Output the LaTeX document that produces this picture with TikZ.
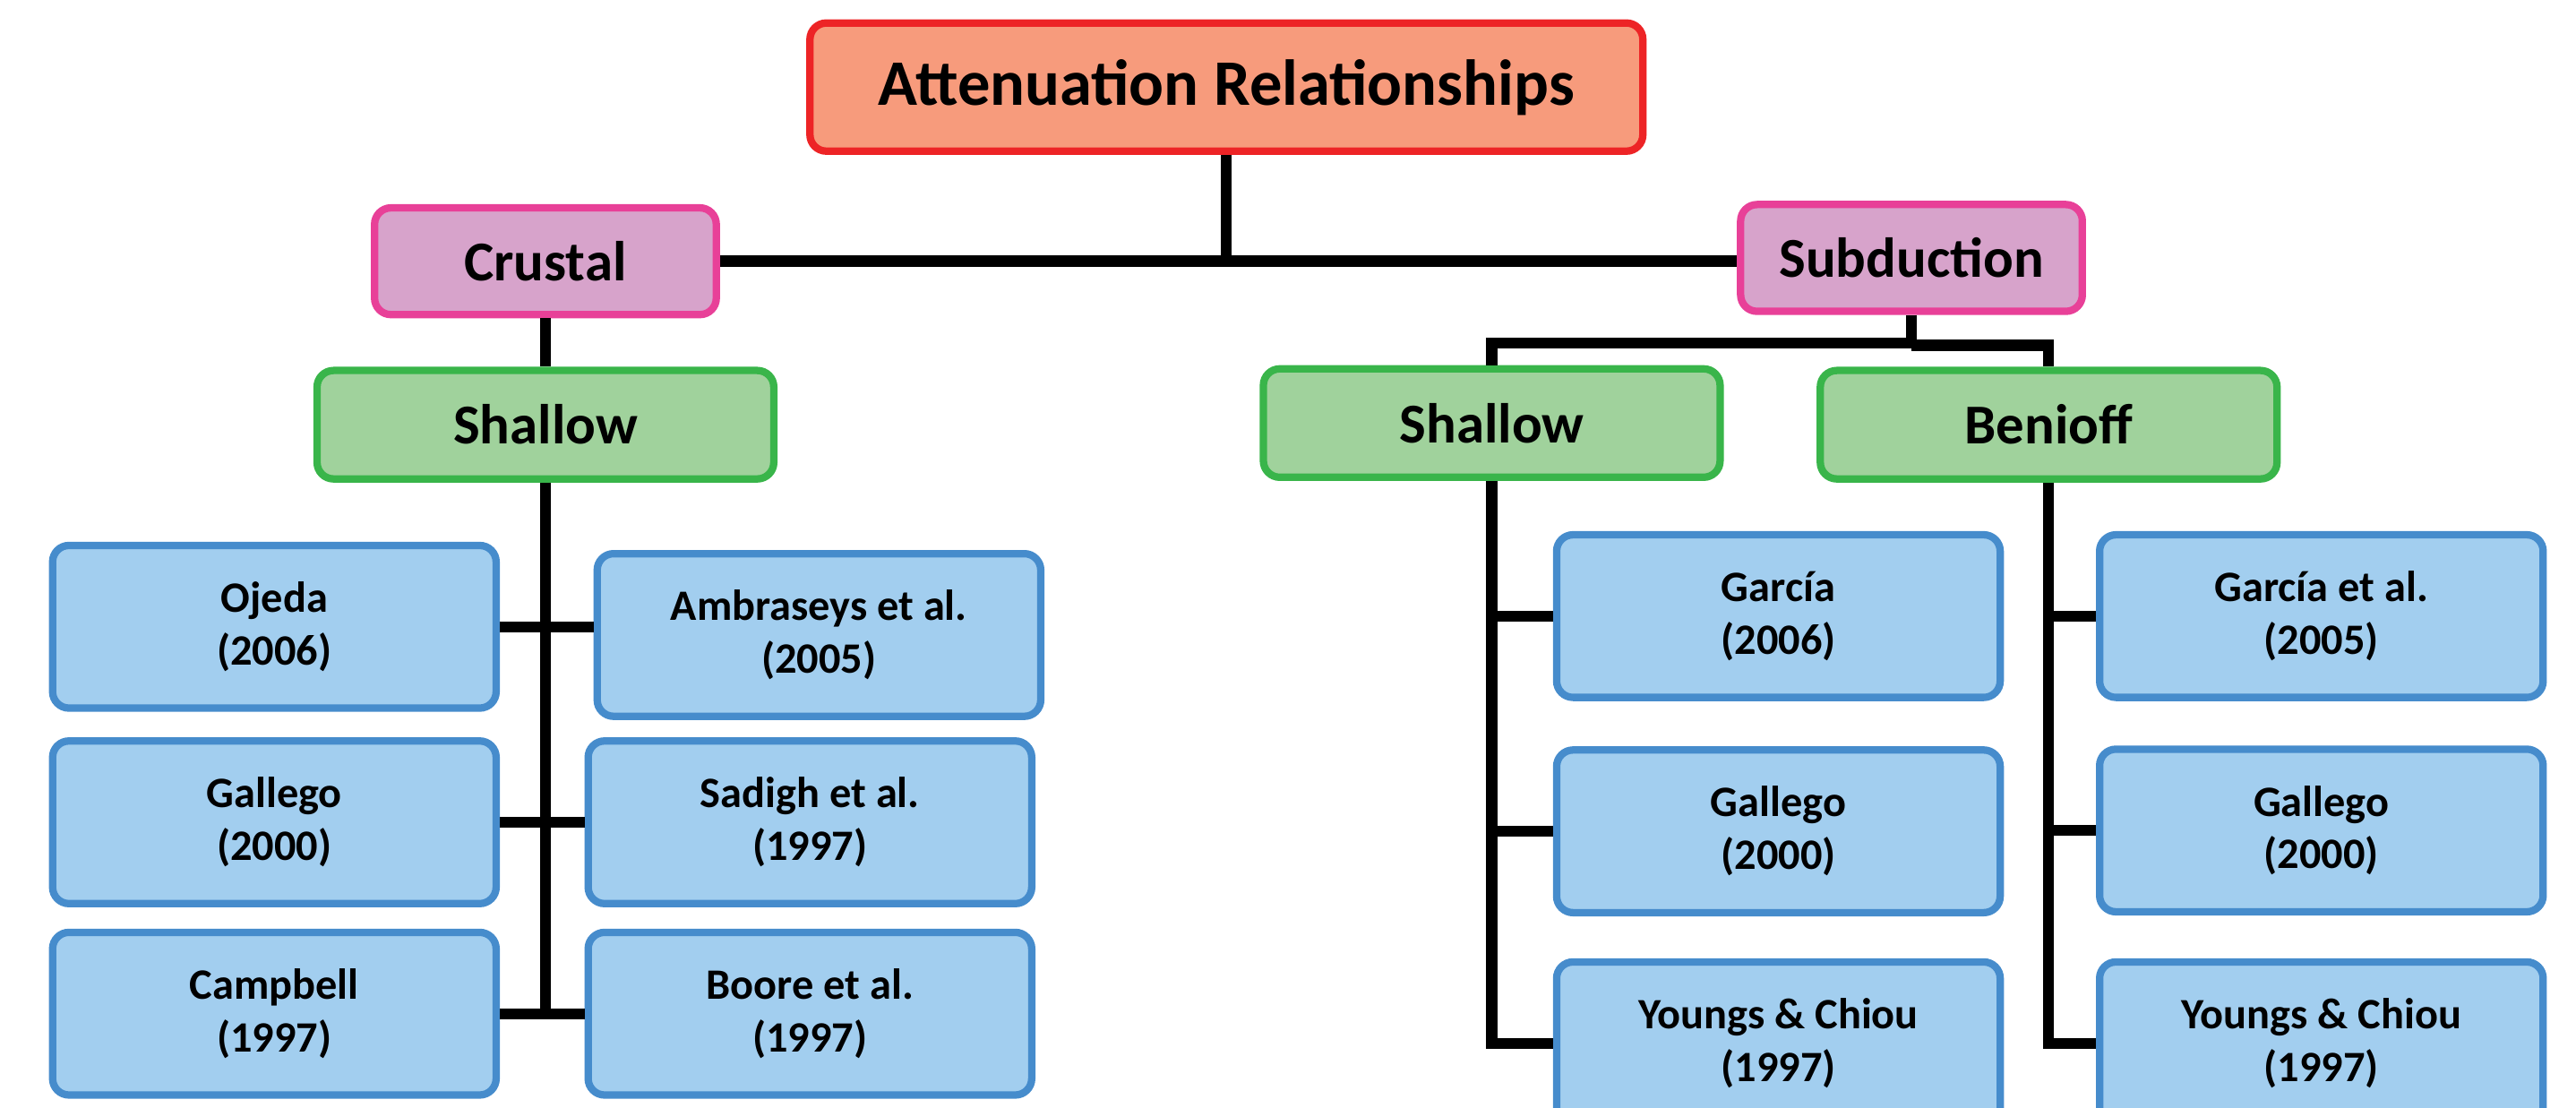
\documentclass[tikz,border=0pt]{standalone}
\usepackage{fontspec}
\setmainfont{Carlito}
\usetikzlibrary{positioning}

\definecolor{topfill}{RGB}{247,155,124}
\definecolor{topline}{RGB}{237,36,38}
\definecolor{pinkfill}{RGB}{215,163,203}
\definecolor{pinkline}{RGB}{232,64,152}
\definecolor{greenfill}{RGB}{160,210,156}
\definecolor{greenline}{RGB}{57,181,74}
\definecolor{bluefill}{RGB}{162,206,239}
\definecolor{blueline}{RGB}{70,140,204}

\tikzset{
  box/.style={draw, line width=0.9mm, rounded corners=2mm, align=center, inner sep=0pt},
  titlebox/.style={box, draw=topline, fill=topfill, minimum width=10.14cm, minimum height=1.56cm,
    font=\fontsize{22.5}{27}\selectfont\bfseries},
  typebox/.style={box, draw=pinkline, fill=pinkfill, minimum width=4.16cm, minimum height=1.3cm,
    font=\fontsize{19.5}{23.5}\selectfont\bfseries},
  depthbox/.style={box, draw=greenline, fill=greenfill, minimum width=5.56cm, minimum height=1.32cm,
    font=\fontsize{19.5}{23.5}\selectfont\bfseries},
  leafbox/.style={box, draw=blueline, fill=bluefill, minimum width=5.4cm, minimum height=1.98cm,
    font=\fontsize{15}{18.3}\selectfont\bfseries},
  link/.style={line width=1.35mm, black}
}

\begin{document}
\begin{tikzpicture}
  \useasboundingbox (0,0) rectangle (31.36,-13.48);
  \clip (0,0) rectangle (31.36,-13.48);

  % Root and tectonic types
  \node[titlebox] (root) at (14.93,-1.06) {Attenuation Relationships};
  \node[typebox] (crustal) at (6.64,-3.18) {Crustal};
  \node[typebox] (subd) at (23.27,-3.14) {Subduction};

  % Depth classes
  \node[depthbox] (cshallow) at (6.64,-5.17) {Shallow};
  \node[depthbox] (sshallow) at (18.16,-5.15) {Shallow};
  \node[depthbox] (benioff) at (24.94,-5.17) {Benioff};

  % Crustal relationships
  \node[leafbox] (ojeda) at (3.34,-7.63) {Ojeda\\(2006)};
  \node[leafbox] (ambr) at (9.97,-7.73) {Ambraseys et al.\\(2005)};
  \node[leafbox] (gallc) at (3.34,-10.01) {Gallego\\(2000)};
  \node[leafbox] (sadigh) at (9.86,-10.01) {Sadigh et al.\\(1997)};
  \node[leafbox] (campb) at (3.34,-12.34) {Campbell\\(1997)};
  \node[leafbox] (boore) at (9.86,-12.34) {Boore et al.\\(1997)};

  % Subduction shallow relationships
  \node[leafbox] (garcia) at (21.65,-7.50) {García\\(2006)};
  \node[leafbox] (galls) at (21.65,-10.12) {Gallego\\(2000)};
  \node[leafbox] (youngss) at (21.65,-12.70) {Youngs \& Chiou\\(1997)};

  % Benioff relationships
  \node[leafbox] (garciab) at (28.26,-7.50) {García et al.\\(2005)};
  \node[leafbox] (gallb) at (28.26,-10.11) {Gallego\\(2000)};
  \node[leafbox] (youngsb) at (28.26,-12.70) {Youngs \& Chiou\\(1997)};

  % Connectors
  \draw[link] (root.south) -- (root.south |- crustal.east);
  \draw[link] (crustal.east) -- (crustal.east -| subd.west);
  \draw[link] (crustal.south) -- (cshallow.north);

  \draw[link] (cshallow.south) -- (cshallow.south |- campb.east);
  \draw[link] (ojeda.east) -- (ojeda.east -| ambr.west);
  \draw[link] (gallc.east) -- (sadigh.west);
  \draw[link] (campb.east) -- (boore.west);

  \draw[link] (subd.south) -- ++(0,-0.34) coordinate (sj);
  \draw[link] (sj) -| (sshallow.north);
  \draw[link] (sj) ++(0,-0.03) -| (benioff.north);

  \draw[link] (sshallow.south) |- (youngss.west);
  \draw[link] (sshallow.south |- garcia.west) -- (garcia.west);
  \draw[link] (sshallow.south |- galls.west) -- (galls.west);

  \draw[link] (benioff.south) |- (youngsb.west);
  \draw[link] (benioff.south |- garciab.west) -- (garciab.west);
  \draw[link] (benioff.south |- gallb.west) -- (gallb.west);
\end{tikzpicture}
\end{document}
